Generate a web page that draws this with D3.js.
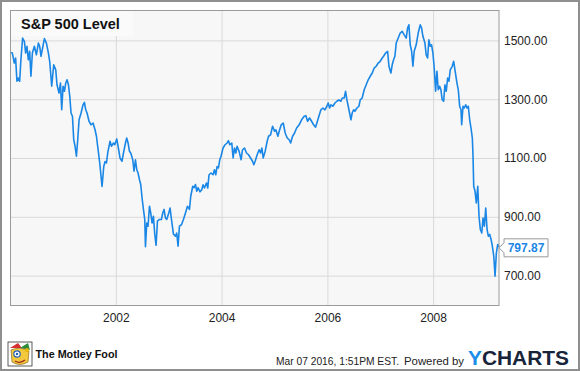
<!DOCTYPE html>
<html><head><meta charset="utf-8">
<script src="https://cdn.jsdelivr.net/npm/d3@7"></script>
<style>
html,body{margin:0;padding:0;background:#fff;}
svg{display:block;font-family:"Liberation Sans",Arial,sans-serif;}
</style></head>
<body>
<svg id="chart" width="580" height="371"></svg>
<script>
// ---- data (decimal year, S&P 500 level) ----
const yearFrac = [
2000.006,2000.044,2000.081,2000.106,2000.131,2000.157,2000.182,2000.206,2000.238,2000.271,
2000.295,2000.320,2000.346,2000.371,2000.395,2000.422,2000.460,2000.498,2000.535,2000.560,
2000.585,2000.649,2000.687,2000.725,2000.749,2000.787,2000.825,2000.863,2000.887,2000.925,
2000.952,2000.976,2001.001,2001.027,2001.052,2001.077,2001.103,2001.128,2001.152,2001.179,
2001.203,2001.228,2001.254,2001.279,2001.304,2001.342,2001.379,2001.406,2001.430,2001.455,
2001.493,2001.531,2001.569,2001.606,2001.633,2001.671,2001.695,2001.720,2001.739,2001.771,
2001.796,2001.822,2001.847,2001.890,2001.917,2001.955,2001.979,2002.017,2002.042,2002.079,
2002.117,2002.144,2002.182,2002.206,2002.231,2002.257,2002.282,2002.320,2002.344,2002.371,
2002.395,2002.420,2002.446,2002.471,2002.496,2002.522,2002.547,2002.560,2002.585,2002.609,
2002.636,2002.660,2002.685,2002.711,2002.736,2002.761,2002.787,2002.825,2002.863,2002.887,
2002.912,2002.938,2002.963,2003.001,2003.026,2003.052,2003.090,2003.128,2003.152,2003.177,
2003.203,2003.241,2003.279,2003.317,2003.355,2003.393,2003.417,2003.455,2003.480,2003.506,
2003.531,2003.555,2003.593,2003.625,2003.650,2003.676,2003.714,2003.739,2003.763,2003.801,
2003.839,2003.866,2003.890,2003.915,2003.941,2003.966,2003.990,2004.028,2004.066,2004.104,
2004.130,2004.155,2004.193,2004.218,2004.244,2004.269,2004.293,2004.331,2004.369,2004.395,
2004.433,2004.471,2004.509,2004.547,2004.585,2004.609,2004.634,2004.672,2004.709,2004.736,
2004.761,2004.785,2004.823,2004.861,2004.887,2004.925,2004.963,2005.001,2005.025,2005.063,
2005.088,2005.126,2005.164,2005.201,2005.239,2005.277,2005.304,2005.341,2005.379,2005.417,
2005.466,2005.512,2005.561,2005.593,2005.625,2005.663,2005.701,2005.739,2005.777,2005.801,
2005.839,2005.877,2005.915,2005.953,2005.990,2006.015,2006.042,2006.066,2006.104,2006.142,
2006.180,2006.218,2006.255,2006.280,2006.318,2006.344,2006.369,2006.394,2006.420,2006.445,
2006.469,2006.496,2006.520,2006.558,2006.596,2006.621,2006.658,2006.696,2006.734,2006.772,
2006.810,2006.848,2006.885,2006.923,2006.961,2006.999,2007.037,2007.063,2007.101,2007.139,
2007.164,2007.201,2007.226,2007.252,2007.277,2007.302,2007.340,2007.377,2007.415,2007.453,
2007.491,2007.517,2007.542,2007.567,2007.593,2007.618,2007.642,2007.680,2007.718,2007.756,
2007.782,2007.807,2007.845,2007.869,2007.896,2007.920,2007.945,2007.971,2007.996,2008.021,
2008.047,2008.072,2008.096,2008.123,2008.147,2008.172,2008.199,2008.223,2008.248,2008.274,
2008.299,2008.323,2008.361,2008.388,2008.412,2008.450,2008.475,2008.501,2008.526,2008.539,
2008.564,2008.588,2008.615,2008.639,2008.664,2008.690,2008.715,2008.740,2008.753,2008.766,
2008.791,2008.815,2008.842,2008.866,2008.891,2008.918,2008.942,2008.967,2008.993,2009.018,
2009.042,2009.069,2009.094,2009.118,2009.145,2009.169,2009.194,2009.220,2009.246
];
const level = [
1459,1457,1423,1440,1361,1372,1361,1434,1508,1497,
1457,1480,1434,1463,1378,1457,1480,1451,1491,1480,
1446,1506,1491,1457,1429,1344,1417,1400,1349,1321,
1355,1264,1344,1327,1355,1366,1349,1310,1253,1242,
1162,1140,1106,1162,1230,1253,1281,1289,1264,1253,
1225,1213,1219,1196,1174,1118,1083,1037,1003,1071,
1088,1083,1118,1157,1140,1151,1145,1165,1140,1100,
1089,1117,1151,1168,1151,1123,1117,1094,1055,1094,
1061,1049,1027,1010,964,925,891,798,879,868,
936,913,879,902,841,803,885,891,891,913,
925,896,891,913,930,891,841,834,845,800,
868,873,891,913,936,925,970,1004,999,1010,
987,999,985,992,1009,998,1015,998,1043,1049,
1043,1060,1043,1071,1066,1094,1106,1134,1145,1151,
1159,1145,1151,1100,1134,1117,1140,1123,1094,1128,
1134,1117,1111,1100,1089,1077,1089,1111,1128,1117,
1134,1100,1123,1157,1174,1179,1208,1191,1196,1174,
1191,1213,1219,1185,1168,1162,1151,1174,1185,1202,
1213,1230,1242,1244,1225,1236,1225,1213,1205,1219,
1242,1264,1270,1264,1276,1287,1270,1281,1276,1287,
1293,1298,1293,1304,1304,1327,1298,1276,1253,1230,
1253,1264,1259,1270,1276,1298,1304,1332,1349,1366,
1378,1389,1406,1412,1423,1429,1440,1446,1457,1463,
1412,1389,1417,1434,1446,1491,1508,1525,1531,1519,
1508,1542,1553,1485,1463,1412,1463,1485,1525,1553,
1542,1514,1491,1451,1440,1502,1480,1485,1457,1406,
1327,1395,1332,1344,1332,1298,1293,1349,1327,1372,
1361,1400,1412,1429,1400,1355,1332,1276,1264,1213,
1276,1270,1281,1270,1276,1230,1202,1168,1106,1004,
987,947,1004,902,857,845,896,868,930,857,
834,840,823,800,766,698,777,806,797.87
];
const yTickValues = [700, 900, 1100, 1300, 1500];
const xTickYears = [2002, 2004, 2006, 2008];
const titleText = "S&P 500 Level";
const lastLabel = "797.87";
const footerDate = "Mar 07 2016, 1:51PM EST.";
const footerPowered = "Powered by";

// ---- helpers ----
function toDate(yf){
  const y = Math.floor(yf);
  const s = new Date(y,0,1), e = new Date(y+1,0,1);
  return new Date(+s + (yf - y) * (e - s));
}
const data = yearFrac.map((yf,i)=>({date: toDate(yf), value: level[i]}));

const svg = d3.select("#chart");
const W = 580, H = 371;
const plot = {left: 10, right: 499, top: 11, bottom: 305};
const blue = "#1a87e6";

// outer frame
svg.append("rect").attr("x",1).attr("y",1).attr("width",W-2).attr("height",H-2)
  .attr("fill","#fff").attr("stroke","#8f8f8f").attr("stroke-width",2);

// plot bg
svg.append("rect").attr("x",plot.left).attr("y",plot.top-1)
  .attr("width",plot.right-plot.left).attr("height",plot.bottom-plot.top+1)
  .attr("fill","#f7f7f7");

const x = d3.scaleTime()
  .domain([new Date(2000,0,1), new Date(2009,2,31)])
  .range([plot.left, plot.right]);
const y = d3.scaleLinear().domain([600,1600]).range([plot.bottom, plot.top]);

// gridlines
const gx = svg.append("g").attr("transform",`translate(0,${plot.bottom})`)
  .call(d3.axisBottom(x).tickValues(xTickYears.map(v=>new Date(v,0,1)))
    .tickSize(-(plot.bottom-plot.top+1)).tickFormat(""));
gx.select(".domain").remove();
gx.selectAll("line").attr("stroke","#d9d9d9").attr("stroke-width",1);

const gy = svg.append("g").attr("transform",`translate(${plot.left},0)`)
  .call(d3.axisRight(y).tickValues(yTickValues)
    .tickSize(plot.right-plot.left).tickFormat(""));
gy.select(".domain").remove();
gy.selectAll("line").attr("stroke","#d9d9d9").attr("stroke-width",1);

// title box & title
svg.append("rect").attr("x",plot.left+1).attr("y",plot.top-1)
  .attr("width",122).attr("height",26).attr("fill","#fafafa");
svg.append("text").attr("x",21).attr("y",28.5)
  .attr("font-size",14.5).attr("font-weight","bold").attr("fill","#111")
  .text(titleText);

// line
svg.append("path").datum(data)
  .attr("fill","none").attr("stroke",blue).attr("stroke-width",1.6)
  .attr("stroke-linejoin","round")
  .attr("d", d3.line().x(d=>x(d.date)).y(d=>y(d.value)));

// plot border
svg.append("rect").attr("x",plot.left+0.5).attr("y",plot.top-0.5)
  .attr("width",plot.right-plot.left-0.5).attr("height",plot.bottom-plot.top+1)
  .attr("fill","none").attr("stroke","#9a9a9a").attr("stroke-width",1);

// y axis labels
const ya = svg.append("g").attr("transform",`translate(${plot.right},0)`)
  .call(d3.axisRight(y).tickValues(yTickValues).tickSize(0).tickPadding(5)
    .tickFormat(d3.format(".2f")));
ya.select(".domain").remove();
ya.selectAll("text").attr("font-size",12).attr("fill","#222")
  .attr("font-family","'Liberation Sans',Arial,sans-serif");

// x axis labels
const xa = svg.append("g").attr("transform",`translate(0,${plot.bottom})`)
  .call(d3.axisBottom(x).tickValues(xTickYears.map(v=>new Date(v,0,1)))
    .tickSize(0).tickPadding(8).tickFormat(d3.timeFormat("%Y")));
xa.select(".domain").remove();
xa.selectAll("text").attr("font-size",12).attr("fill","#222")
  .attr("font-family","'Liberation Sans',Arial,sans-serif");

// last value callout
const last = data[data.length-1];
const ly = y(last.value) + 1;
const bx = 504, bw = 44, bh = 18;
svg.append("path")
  .attr("d",`M${bx},${ly-bh/2} L${bx+bw},${ly-bh/2} L${bx+bw},${ly+bh/2} L${bx},${ly+bh/2} L${bx},${ly+5} L${bx-5},${ly} L${bx},${ly-5} Z`)
  .attr("fill","#fff").attr("stroke","#999").attr("stroke-width",1);
svg.append("text").attr("x",bx+bw/2).attr("y",ly+4.5).attr("text-anchor","middle")
  .attr("font-size",12).attr("font-weight","bold").attr("fill",blue).text(lastLabel);

// footer: Motley Fool logo
const logo = svg.append("g").attr("transform","translate(8,342)");
logo.append("rect").attr("width",24).attr("height",24).attr("fill","#fff").attr("stroke","#333").attr("stroke-width",0.8);
logo.append("path").attr("d","M2,6 L10,1 L14,6 Z").attr("fill","#d62f2f");
logo.append("path").attr("d","M12,6 L20,1 L22,8 Z").attr("fill","#2f8a3a");
logo.append("path").attr("d","M3,8 Q12,4 21,9 L20,20 Q12,25 4,20 Z").attr("fill","#f3c83c").attr("stroke","#7a5a10").attr("stroke-width",0.6);
logo.append("circle").attr("cx",9).attr("cy",12).attr("r",3.2).attr("fill","#fff").attr("stroke","#1e5fb5").attr("stroke-width",1.2);
logo.append("circle").attr("cx",9).attr("cy",12).attr("r",1.2).attr("fill","#1e5fb5");
logo.append("path").attr("d","M7,19 Q12,22 17,18").attr("fill","none").attr("stroke","#a0231f").attr("stroke-width",1.2);
logo.append("circle").attr("cx",19).attr("cy",8).attr("r",2).attr("fill","#e6b800");
svg.append("text").attr("x",35.5).attr("y",357.5).attr("font-size",11.5).attr("font-weight","bold")
  .attr("fill","#111").attr("textLength",82).attr("lengthAdjust","spacingAndGlyphs").text("The Motley Fool");

// footer text
svg.append("text").attr("x",276).attr("y",365)
  .attr("font-size",11).attr("fill","#222")
  .attr("textLength",123).attr("lengthAdjust","spacingAndGlyphs").text(footerDate);
svg.append("text").attr("x",404).attr("y",365)
  .attr("font-size",11).attr("fill","#222")
  .attr("textLength",60).attr("lengthAdjust","spacingAndGlyphs").text(footerPowered);
const yc = svg.append("text").attr("x",468).attr("y",365).attr("font-size",20.5).attr("font-weight","bold")
  .attr("textLength",101).attr("lengthAdjust","spacingAndGlyphs");
yc.append("tspan").attr("fill","#1a8ee8").text("Y");
yc.append("tspan").attr("fill","#17243a").text("CHARTS");
</script>
</body></html>
